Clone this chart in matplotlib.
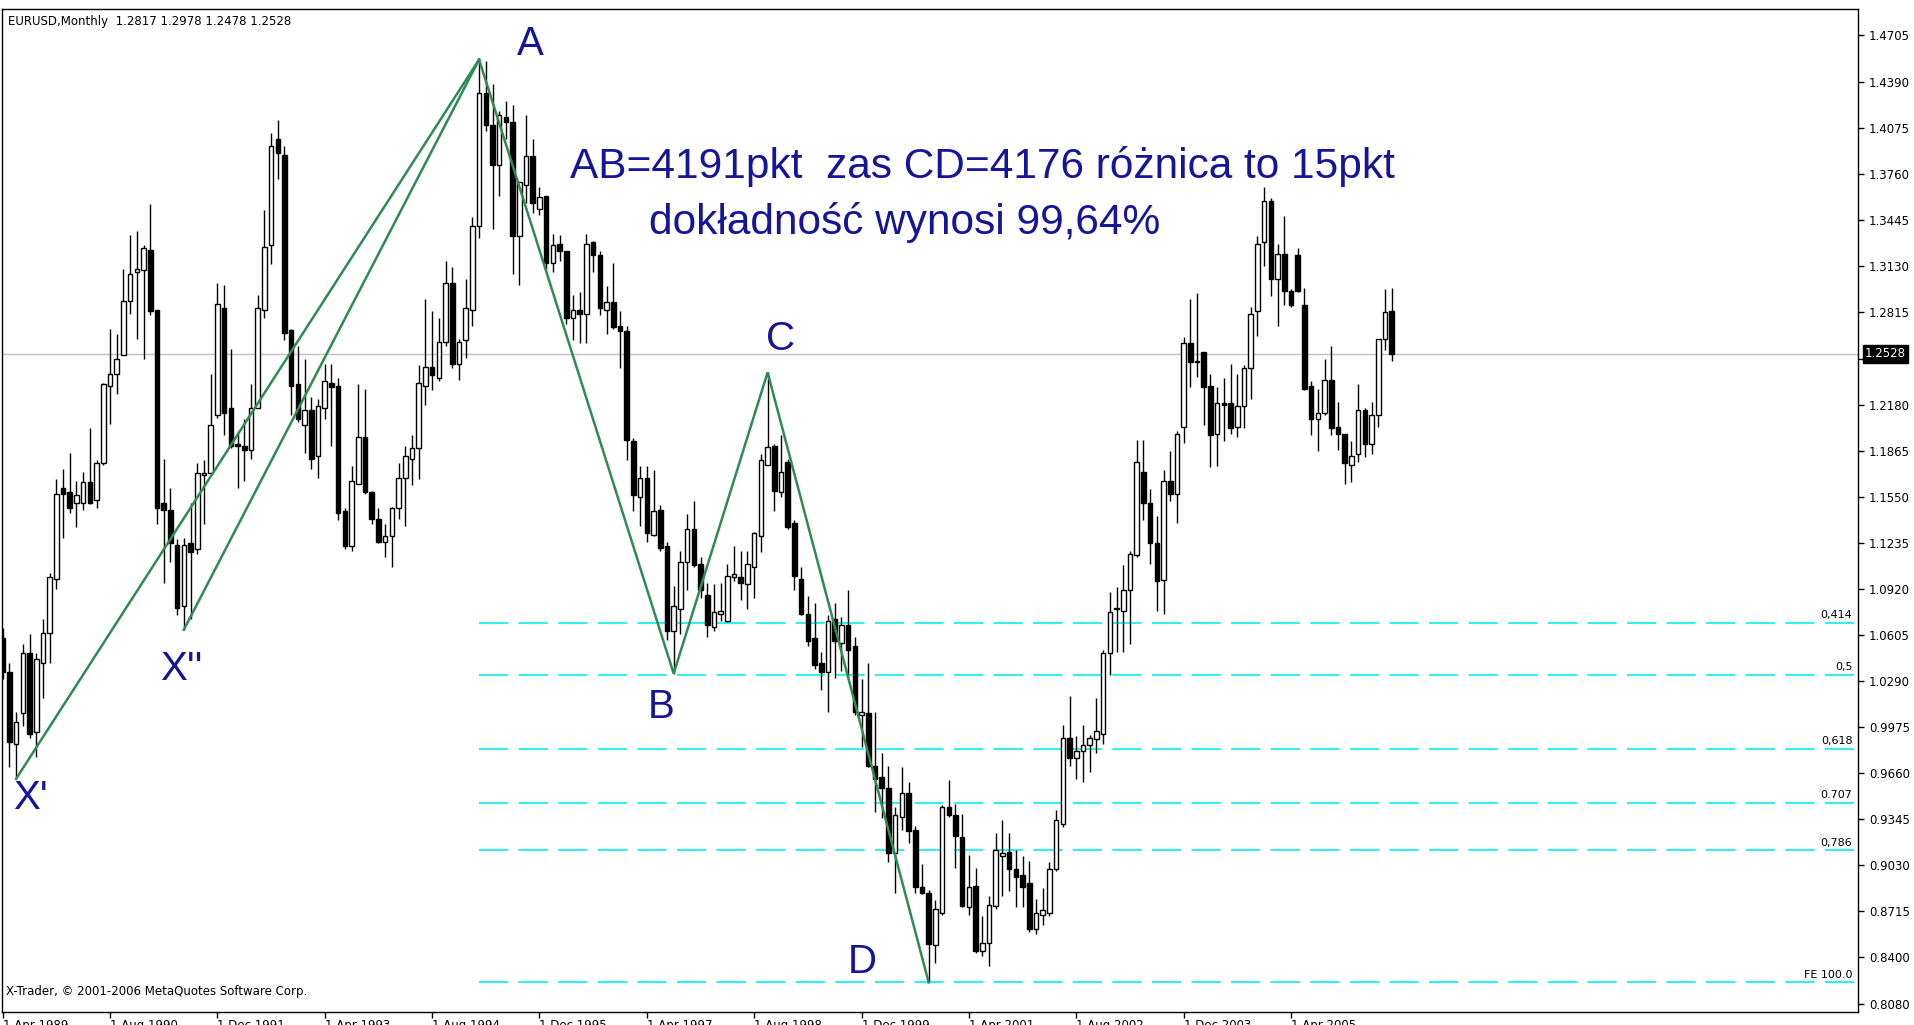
import numpy as np
import matplotlib
matplotlib.use("Agg")
import matplotlib.pyplot as plt

# monthly EURUSD candles, index 0 = Apr 1989
opens = [1.058, 1.035, 0.986, 1.007, 1.048, 0.994, 1.041, 1.062, 1.099, 1.161,
         1.158, 1.151, 1.151, 1.165, 1.153, 1.178, 1.231, 1.239, 1.252, 1.289,
         1.309, 1.310, 1.324, 1.283, 1.151, 1.146, 1.122, 1.080, 1.123, 1.119,
         1.170, 1.171, 1.211, 1.284, 1.216, 1.191, 1.190, 1.187, 1.216, 1.283,
         1.327, 1.400, 1.389, 1.269, 1.232, 1.204, 1.214, 1.183, 1.216, 1.233,
         1.231, 1.145, 1.121, 1.164, 1.196, 1.158, 1.140, 1.124, 1.128, 1.147,
         1.168, 1.181, 1.188, 1.231, 1.244, 1.236, 1.261, 1.301, 1.246, 1.262,
         1.283, 1.340, 1.431, 1.409, 1.382, 1.415, 1.411, 1.333, 1.368, 1.388,
         1.352, 1.361, 1.315, 1.328, 1.323, 1.277, 1.283, 1.280, 1.329, 1.320,
         1.283, 1.288, 1.272, 1.268, 1.193, 1.155, 1.168, 1.129, 1.146, 1.121,
         1.063, 1.078, 1.110, 1.133, 1.109, 1.088, 1.066, 1.075, 1.070, 1.100,
         1.100, 1.095, 1.107, 1.128, 1.177, 1.190, 1.158, 1.179, 1.137, 1.099,
         1.075, 1.058, 1.041, 1.035, 1.071, 1.055, 1.067, 1.053, 1.006, 1.007,
         0.971, 0.963, 0.956, 0.911, 0.936, 0.952, 0.927, 0.888, 0.884, 0.848,
         0.870, 0.943, 0.937, 0.922, 0.874, 0.889, 0.844, 0.850, 0.875, 0.909,
         0.912, 0.900, 0.896, 0.891, 0.859, 0.869, 0.870, 0.900, 0.931, 0.990,
         0.976, 0.981, 0.985, 0.989, 0.993, 1.048, 1.079, 1.077, 1.091, 1.115,
         1.172, 1.151, 1.123, 1.098, 1.166, 1.157, 1.203, 1.260, 1.247, 1.254,
         1.231, 1.198, 1.219, 1.219, 1.203, 1.217, 1.243, 1.282, 1.329, 1.357,
         1.304, 1.321, 1.296, 1.320, 1.286, 1.231, 1.208, 1.212, 1.235, 1.203,
         1.198, 1.177, 1.184, 1.214, 1.191, 1.211, 1.263, 1.2817]
highs = [1.065, 1.041, 1.008, 1.054, 1.061, 1.048, 1.071, 1.103, 1.167, 1.174,
         1.185, 1.166, 1.172, 1.202, 1.180, 1.233, 1.270, 1.266, 1.311, 1.334,
         1.337, 1.327, 1.355, 1.283, 1.181, 1.161, 1.126, 1.127, 1.151, 1.178,
         1.180, 1.239, 1.301, 1.300, 1.256, 1.200, 1.208, 1.232, 1.293, 1.351,
         1.404, 1.413, 1.395, 1.270, 1.258, 1.249, 1.223, 1.222, 1.246, 1.246,
         1.236, 1.147, 1.176, 1.232, 1.229, 1.159, 1.147, 1.136, 1.148, 1.178,
         1.190, 1.197, 1.245, 1.290, 1.282, 1.277, 1.316, 1.312, 1.263, 1.304,
         1.346, 1.454, 1.453, 1.437, 1.419, 1.426, 1.423, 1.370, 1.416, 1.400,
         1.367, 1.361, 1.335, 1.334, 1.323, 1.293, 1.295, 1.335, 1.330, 1.323,
         1.299, 1.315, 1.282, 1.272, 1.195, 1.176, 1.176, 1.173, 1.149, 1.124,
         1.094, 1.118, 1.143, 1.152, 1.114, 1.096, 1.095, 1.096, 1.109, 1.121,
         1.118, 1.118, 1.131, 1.184, 1.240, 1.191, 1.197, 1.181, 1.139, 1.107,
         1.087, 1.082, 1.049, 1.074, 1.082, 1.073, 1.091, 1.059, 1.030, 1.041,
         1.008, 0.980, 0.971, 0.943, 0.970, 0.960, 0.930, 0.904, 0.886, 0.879,
         0.944, 0.961, 0.945, 0.938, 0.910, 0.901, 0.868, 0.882, 0.925, 0.934,
         0.925, 0.913, 0.909, 0.906, 0.880, 0.887, 0.905, 0.941, 0.999, 1.019,
         0.991, 0.999, 0.992, 1.017, 1.050, 1.090, 1.093, 1.108, 1.118, 1.194,
         1.194, 1.160, 1.142, 1.173, 1.186, 1.200, 1.264, 1.290, 1.294, 1.254,
         1.239, 1.230, 1.236, 1.246, 1.239, 1.245, 1.285, 1.333, 1.367, 1.359,
         1.328, 1.347, 1.297, 1.325, 1.298, 1.234, 1.229, 1.249, 1.258, 1.220,
         1.198, 1.193, 1.232, 1.216, 1.220, 1.263, 1.297, 1.2978]
lows = [1.030, 0.970, 0.962, 0.998, 0.990, 0.977, 1.017, 1.041, 1.092, 1.127,
        1.144, 1.134, 1.146, 1.150, 1.147, 1.177, 1.205, 1.225, 1.252, 1.280,
        1.263, 1.249, 1.279, 1.136, 1.096, 1.110, 1.074, 1.064, 1.071, 1.116,
        1.136, 1.171, 1.209, 1.197, 1.188, 1.161, 1.166, 1.181, 1.216, 1.277,
        1.314, 1.372, 1.262, 1.211, 1.206, 1.185, 1.174, 1.168, 1.208, 1.190,
        1.139, 1.119, 1.118, 1.164, 1.157, 1.136, 1.123, 1.114, 1.107, 1.140,
        1.135, 1.163, 1.167, 1.218, 1.228, 1.234, 1.258, 1.243, 1.235, 1.250,
        1.272, 1.332, 1.405, 1.338, 1.361, 1.400, 1.307, 1.300, 1.356, 1.349,
        1.348, 1.311, 1.309, 1.316, 1.273, 1.262, 1.260, 1.260, 1.309, 1.279,
        1.266, 1.270, 1.243, 1.180, 1.145, 1.135, 1.124, 1.128, 1.118, 1.057,
        1.034, 1.061, 1.091, 1.107, 1.086, 1.059, 1.063, 1.070, 1.069, 1.097,
        1.084, 1.078, 1.086, 1.117, 1.177, 1.145, 1.155, 1.133, 1.091, 1.074,
        1.053, 1.037, 1.023, 1.008, 1.031, 1.036, 1.031, 1.006, 0.984, 0.970,
        0.939, 0.935, 0.905, 0.884, 0.927, 0.918, 0.884, 0.883, 0.8228, 0.836,
        0.869, 0.936, 0.901, 0.874, 0.869, 0.843, 0.841, 0.834, 0.873, 0.882,
        0.885, 0.874, 0.874, 0.857, 0.856, 0.862, 0.868, 0.899, 0.929, 0.971,
        0.962, 0.960, 0.967, 0.980, 0.986, 1.033, 1.049, 1.049, 1.054, 1.114,
        1.139, 1.109, 1.077, 1.075, 1.152, 1.137, 1.192, 1.230, 1.237, 1.204,
        1.175, 1.176, 1.193, 1.198, 1.196, 1.202, 1.222, 1.265, 1.313, 1.292,
        1.272, 1.286, 1.285, 1.295, 1.228, 1.197, 1.186, 1.211, 1.197, 1.187,
        1.164, 1.165, 1.179, 1.182, 1.184, 1.203, 1.255, 1.2478]
closes = [1.035, 0.987, 1.001, 1.048, 0.993, 1.044, 1.062, 1.100, 1.157, 1.157,
          1.147, 1.156, 1.165, 1.151, 1.178, 1.232, 1.239, 1.249, 1.289, 1.307,
          1.311, 1.325, 1.282, 1.147, 1.146, 1.123, 1.079, 1.122, 1.117, 1.171,
          1.171, 1.204, 1.287, 1.212, 1.190, 1.190, 1.187, 1.216, 1.284, 1.326,
          1.395, 1.390, 1.267, 1.231, 1.208, 1.214, 1.181, 1.217, 1.234, 1.230,
          1.144, 1.121, 1.166, 1.196, 1.158, 1.140, 1.124, 1.128, 1.147, 1.168,
          1.183, 1.188, 1.233, 1.244, 1.238, 1.261, 1.301, 1.246, 1.261, 1.284,
          1.340, 1.431, 1.409, 1.382, 1.416, 1.411, 1.333, 1.370, 1.388, 1.356,
          1.360, 1.315, 1.327, 1.323, 1.277, 1.283, 1.280, 1.328, 1.320, 1.284,
          1.288, 1.271, 1.268, 1.194, 1.156, 1.168, 1.130, 1.145, 1.120, 1.063,
          1.080, 1.110, 1.133, 1.108, 1.091, 1.067, 1.076, 1.077, 1.101, 1.102,
          1.096, 1.109, 1.130, 1.180, 1.189, 1.159, 1.172, 1.134, 1.101, 1.075,
          1.056, 1.040, 1.035, 1.070, 1.056, 1.067, 1.050, 1.008, 1.008, 0.971,
          0.962, 0.956, 0.911, 0.937, 0.952, 0.926, 0.888, 0.884, 0.849, 0.873,
          0.943, 0.937, 0.923, 0.875, 0.888, 0.844, 0.850, 0.876, 0.913, 0.911,
          0.900, 0.895, 0.888, 0.859, 0.870, 0.872, 0.900, 0.934, 0.990, 0.976,
          0.981, 0.985, 0.990, 0.995, 1.048, 1.076, 1.078, 1.091, 1.116, 1.179,
          1.151, 1.123, 1.097, 1.166, 1.157, 1.198, 1.260, 1.247, 1.248, 1.230,
          1.197, 1.219, 1.218, 1.202, 1.217, 1.243, 1.280, 1.328, 1.357, 1.304,
          1.321, 1.296, 1.286, 1.296, 1.229, 1.208, 1.212, 1.235, 1.202, 1.198,
          1.178, 1.183, 1.214, 1.191, 1.211, 1.263, 1.281, 1.2528]

# harmonic pattern points: (label, candle index, which extreme)
pattern = [("X'", 2, "low"), ("X''", 27, "low"), ("A", 71, "high"),
           ("B", 100, "low"), ("C", 114, "high"), ("D", 138, "low")]

fe_levels = [1.0685, 1.0330, 0.9826, 0.9453, 0.9130, 0.8228]
fe_labels = ["0,414", "0,5", "0,618", "0.707", "0,786", "FE 100.0"]

price_ticks = [1.4705, 1.4390, 1.4075, 1.3760, 1.3445, 1.3130, 1.2815, 1.2495,
               1.2180, 1.1865, 1.1550, 1.1235, 1.0920, 1.0605, 1.0290, 0.9975,
               0.9660, 0.9345, 0.9030, 0.8715, 0.8400, 0.8080]
date_labels = ["1 Apr 1989", "1 Aug 1990", "1 Dec 1991", "1 Apr 1993", "1 Aug 1994",
               "1 Dec 1995", "1 Apr 1997", "1 Aug 1998", "1 Dec 1999", "1 Apr 2001",
               "1 Aug 2002", "1 Dec 2003", "1 Apr 2005"]
date_index = [0, 16, 32, 48, 64, 80, 96, 112, 128, 144, 160, 176, 192]

last_bar = "EURUSD,Monthly  1.2817 1.2978 1.2478 1.2528"
bid = 1.2528

W, H = 1915, 1025
fig = plt.figure(figsize=(W / 100, H / 100), dpi=100)
ax = fig.add_axes([2 / W, (H - 1012) / H, 1856 / W, 1003 / H])

o = np.array(opens)
c = np.array(closes)
hi = np.array(highs)
lo = np.array(lows)
idx = np.arange(len(o))

# candles
ax.vlines(idx, lo, hi, color="black", linewidth=1.0, zorder=3)
body_bottom = np.minimum(o, c)
body_h = np.maximum(np.abs(c - o), 0.0007)
fills = ["white" if cc >= oo else "black" for oo, cc in zip(o, c)]
ax.bar(idx, body_h, bottom=body_bottom, width=0.68, color=fills,
       edgecolor="black", linewidth=1.0, zorder=4)

# bid line
ax.axhline(bid, color="#c0c0c0", linewidth=1.0, zorder=1)

# fibo expansion lines
a_idx = pattern[2][1]
for lev, lab in zip(fe_levels, fe_labels):
    ax.plot([a_idx, 300], [lev, lev], color="#33f0f0", linewidth=1.5,
            dashes=(14, 5), zorder=2)
    ax.annotate(lab, xy=(1, lev), xycoords=("axes fraction", "data"),
                xytext=(-4, 2), textcoords="offset points", ha="right", va="bottom",
                fontsize=8, family="DejaVu Sans", color="black")

# pattern lines
pts = {}
for name, i, kind in pattern:
    pts[name] = (i, highs[i] if kind == "high" else lows[i])
green = "#2e8b57"
for seq in [["X'", "A"], ["X''", "A"], ["A", "B", "C", "D"]]:
    ax.plot([pts[n][0] for n in seq], [pts[n][1] for n in seq], color=green,
            linewidth=1.8, zorder=5, solid_joinstyle="miter")

blue = "#15159a"
label_pos = {"X'": (1.5, 0.9417), "X''": (23.5, 1.0296), "A": (76.7, 1.457),
             "B": (96.1, 1.0036), "C": (113.8, 1.255), "D": (126.0, 0.829)}
for name, (x, y) in label_pos.items():
    ax.text(x, y, name, fontsize=29, family="Liberation Sans", color=blue,
            ha="left", va="baseline", zorder=6)

ax.text(84.6, 1.373, "AB=4191pkt  zas CD=4176 różnica to 15pkt", fontsize=30.5,
        family="Liberation Sans", color=blue, ha="left", va="baseline", zorder=6)
ax.text(96.3, 1.3345, "dokładność wynosi 99,64%", fontsize=30.5,
        family="Liberation Sans", color=blue, ha="left", va="baseline", zorder=6)

# axes
ax.set_xlim(-0.1, 276.5)
ax.set_ylim(0.8025, 1.4886)
ax.yaxis.tick_right()
ax.set_yticks(price_ticks)
ax.set_yticklabels(["%.4f" % p for p in price_ticks])
ax.tick_params(axis="y", direction="out", length=4, width=1, pad=4, labelsize=8.5)
ax.set_xticks(date_index)
ax.set_xticklabels(date_labels, ha="left")
ax.tick_params(axis="x", direction="out", length=4, width=1, pad=1, labelsize=8.5)
for s in ax.spines.values():
    s.set_color("black")
    s.set_linewidth(1.0)

# bid price box on the axis
ax.annotate("%.4f" % bid, xy=(1, bid), xycoords=("axes fraction", "data"),
            xytext=(5, 0), textcoords="offset points", ha="left", va="center",
            fontsize=8.5, color="white", zorder=10, annotation_clip=False,
            bbox=dict(boxstyle="square,pad=0.2", fc="black", ec="black"))

fig.text(8 / W, 1 - 22 / H, last_bar, fontsize=8.5, ha="left", va="center")
fig.text(6 / W, 1 - 992 / H, "X-Trader, © 2001-2006 MetaQuotes Software Corp.",
         fontsize=8.5, ha="left", va="center")

fig.savefig("out.png", dpi=100, facecolor="white")
